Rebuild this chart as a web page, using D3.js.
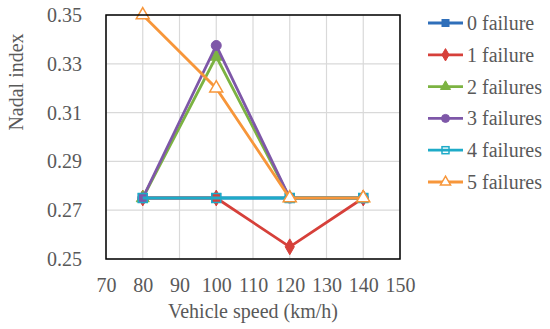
<!DOCTYPE html>
<html>
<head>
<meta charset="utf-8">
<script src="https://cdn.jsdelivr.net/npm/d3@7"></script>
<style>
  body { margin: 0; background: #fff; }
  svg text { font-family: "Liberation Serif", "DejaVu Serif", "Times New Roman", serif !important; fill: #595959; }
</style>
</head>
<body>
<div class="chart"></div>
<script>
const width = 550;
const height = 329;

// data
const speeds = [80, 100, 120, 140];
const seriesNames = ["0 failure", "1 failure", "2 failures", "3 failures", "4 failures", "5 failures"];
const fail0 = [0.275, 0.275, 0.275, 0.275];
const fail1 = [0.275, 0.275, 0.255, 0.275];
const fail2 = [0.275, 0.333, 0.275, 0.275];
const fail3 = [0.275, 0.3375, 0.275, 0.275];
const fail4 = [0.275, 0.275, 0.275, 0.275];
const fail5 = [0.35, 0.32, 0.275, 0.275];
const xTicks = [70, 80, 90, 100, 110, 120, 130, 140, 150];
const yTicks = [0.25, 0.27, 0.29, 0.31, 0.33, 0.35];

const colors = ["#2f6fba", "#d6403a", "#7cb342", "#7e57a8", "#1eabc8", "#f7963a"];
const shapes = ["square", "diamond", "triangle", "circle", "squareOpen", "triangleOpen"];
const allValues = [fail0, fail1, fail2, fail3, fail4, fail5];

const margin = { top: 15, left: 106, right: 150, bottom: 70 };

const svg = d3
  .select(".chart")
  .append("svg")
  .attr("width", width)
  .attr("height", height);

const x = d3.scaleLinear().domain([70, 150]).range([margin.left, 400]);
const y = d3.scaleLinear().domain([0.25, 0.35]).range([259, margin.top]);

// grid
svg.append("g")
  .selectAll("line")
  .data(xTicks)
  .enter()
  .append("line")
  .attr("x1", (d) => x(d))
  .attr("x2", (d) => x(d))
  .attr("y1", y(0.25))
  .attr("y2", y(0.35))
  .attr("stroke", "#d9d9d9")
  .attr("stroke-width", 1.2);

svg.append("g")
  .selectAll("line")
  .data(yTicks)
  .enter()
  .append("line")
  .attr("x1", x(70))
  .attr("x2", x(150))
  .attr("y1", (d) => y(d))
  .attr("y2", (d) => y(d))
  .attr("stroke", "#d9d9d9")
  .attr("stroke-width", 1.2);

// axes (labels only, Excel style)
const xAxis = svg.append("g")
  .attr("transform", `translate(0, ${y(0.25)})`)
  .call(d3.axisBottom(x).tickValues(xTicks).tickSize(0).tickPadding(19));
const yAxis = svg.append("g")
  .attr("transform", `translate(${x(70)}, 0)`)
  .call(d3.axisLeft(y).tickValues(yTicks).tickSize(0).tickPadding(24).tickFormat(d3.format(".2f")));

[xAxis, yAxis].forEach((a) => {
  a.attr("font-family", null).attr("font-size", null);
  a.select(".domain").remove();
  a.selectAll("text")
    .style("font-size", "20px")
    .attr("fill", "#595959");
});

// series
const line = d3.line()
  .x((d, i) => x(speeds[i]))
  .y((d) => y(d));

function drawMarker(g, shape, color, size) {
  const s = size;
  if (shape == "square") {
    g.append("rect").attr("x", -s / 2).attr("y", -s / 2).attr("width", s).attr("height", s)
      .attr("fill", color).attr("stroke", color);
  } else if (shape == "diamond") {
    g.append("path").attr("d", d3.symbol(d3.symbolDiamond, s * s * 0.9)())
      .attr("fill", color).attr("stroke", color);
  } else if (shape == "triangle") {
    g.append("path").attr("d", d3.symbol(d3.symbolTriangle, s * s * 0.9)())
      .attr("fill", color).attr("stroke", color);
  } else if (shape == "circle") {
    g.append("circle").attr("r", s / 2 + 0.5).attr("fill", color).attr("stroke", color);
  } else if (shape == "squareOpen") {
    g.append("rect").attr("x", -s / 2).attr("y", -s / 2).attr("width", s).attr("height", s)
      .attr("fill", "none").attr("stroke", color).attr("stroke-width", 1.5);
  } else if (shape == "triangleOpen") {
    g.append("path").attr("d", d3.symbol(d3.symbolTriangle, s * s * 0.9)())
      .attr("fill", "#fff").attr("stroke", color).attr("stroke-width", 1.5);
  }
}

allValues.forEach((vals, k) => {
  svg.append("path")
    .datum(vals)
    .attr("d", line)
    .attr("fill", "none")
    .attr("stroke", colors[k])
    .attr("stroke-width", 2.8);

  vals.forEach((v, i) => {
    let g = svg.append("g").attr("transform", `translate(${x(speeds[i])}, ${y(v)})`);
    drawMarker(g, shapes[k], colors[k], 9);
  });
});

// plot border
svg.append("rect")
  .attr("x", x(70))
  .attr("y", y(0.35))
  .attr("width", x(150) - x(70))
  .attr("height", y(0.25) - y(0.35))
  .attr("fill", "none")
  .attr("stroke", "#000")
  .attr("stroke-width", 1.5);

// axis titles
svg.append("text")
  .attr("x", x(110))
  .attr("y", 318)
  .attr("text-anchor", "middle")
  .style("font-size", "20px")
  .text("Vehicle speed (km/h)");

svg.append("text")
  .attr("transform", "translate(23, 82) rotate(-90)")
  .attr("text-anchor", "middle")
  .style("font-size", "20px")
  .text("Nadal index");

// legend
const legend = svg.append("g")
  .selectAll("g")
  .data(seriesNames)
  .enter()
  .append("g")
  .attr("transform", (d, i) => `translate(428, ${23 + i * 31.8})`);

legend.append("line")
  .attr("x1", 0)
  .attr("x2", 35)
  .attr("stroke", (d, i) => colors[i])
  .attr("stroke-width", 2.8);

legend.each(function (d, i) {
  let g = d3.select(this).append("g").attr("transform", "translate(17.5, 0)");
  drawMarker(g, shapes[i], colors[i], 7);
});

legend.append("text")
  .attr("x", 39)
  .attr("dy", "0.35em")
  .style("font-size", "20px")
  .text((d) => d);
</script>
</body>
</html>
